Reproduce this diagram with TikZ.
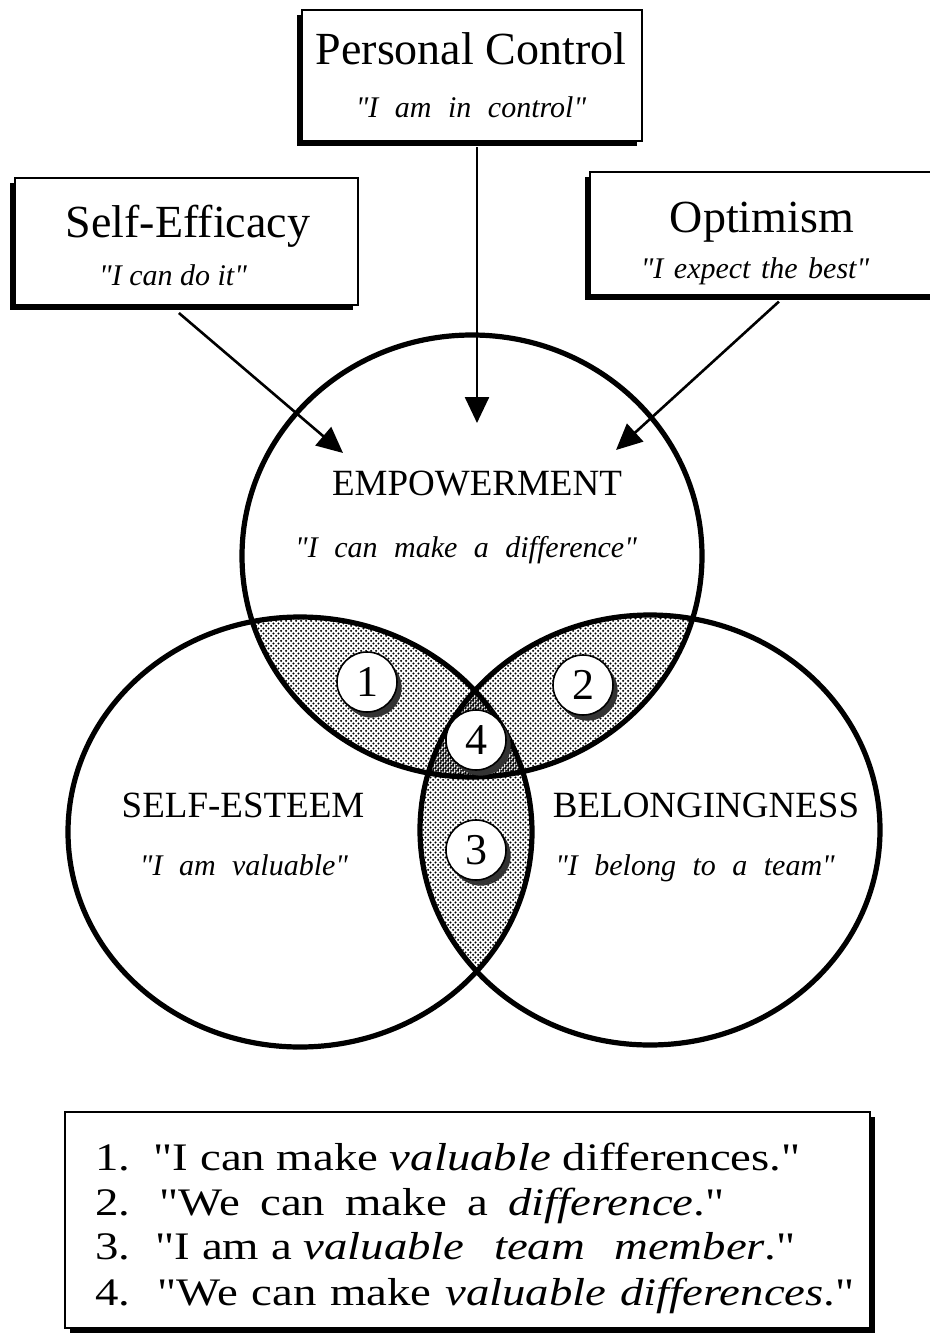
\documentclass[tikz,border=0pt]{standalone}
\usepackage{fontspec}
\setmainfont{Liberation Serif}[Ligatures=TeXOff]
\newfontfamily\legendfont{Liberation Serif}[FakeStretch=1.2]
\usetikzlibrary{patterns.meta,shadows,arrows.meta}

% halftone screen used for the overlap areas
\tikzdeclarepattern{
  name=halftone,
  type=uncolored,
  bottom left={(0pt,0pt)},
  top right={(2.4pt,2.4pt)},
  tile size={(2.4pt,2.4pt)},
  code={
    \pgfpathcircle{\pgfqpoint{0.6pt}{0.6pt}}{0.58pt}
    \pgfpathcircle{\pgfqpoint{1.8pt}{1.8pt}}{0.58pt}
    \pgfusepath{fill}
  }
}

% italic slogan with widened word spacing
\newcommand{\motto}[2][0.55em]{{\fontsize{15}{25}\selectfont\itshape\spaceskip=#1 #2}}

\tikzset{
  cuebox/.style={draw=black, line width=1pt, fill=white, inner sep=0pt,
    drop shadow={shadow xshift=-2.6pt, shadow yshift=-2.6pt, fill=black, opacity=1}},
  boxtitle/.style={anchor=base, inner sep=0pt, font=\fontsize{23}{25}\selectfont},
  listbox/.style={draw=black, line width=1pt, fill=white, inner sep=0pt,
    drop shadow={shadow xshift=2.6pt, shadow yshift=-2.6pt, fill=black, opacity=1}},
  push/.style={line width=1.3pt, -{Triangle[length=13pt,width=12pt]}},
  venn/.style={line width=2.6pt},
  badge/.style={circle, draw=black, line width=0.8pt, fill=white, minimum size=30pt,
    inner sep=0pt, font=\fontsize{22}{22}\selectfont,
    drop shadow={shadow xshift=2.3pt, shadow yshift=-2.8pt, fill=black!80, opacity=1}},
  heading/.style={anchor=base, inner sep=0pt, font=\fontsize{18.5}{20}\selectfont},
  saying/.style={anchor=base, inner sep=0pt},
  listline/.style={anchor=base west, inner sep=0pt, font=\legendfont\fontsize{19.5}{22}\selectfont},
}

\begin{document}
\begin{tikzpicture}[x=0.5pt, y=-0.5pt]
\useasboundingbox (0,0) rectangle (930,1338);
\clip (0,0) rectangle (930,1338);

% overlaps of the three circles
\begin{scope}
  \clip (472,556) ellipse [x radius=230, y radius=221];
  \fill[pattern=halftone] (300,832) ellipse [x radius=232, y radius=215];
  \fill[pattern=halftone] (650,830) ellipse [x radius=230, y radius=215];
\end{scope}
\begin{scope}
  \clip (300,832) ellipse [x radius=232, y radius=215];
  \fill[pattern=halftone] (650,830) ellipse [x radius=230, y radius=215];
\end{scope}

% the three circles
\draw[venn] (472,556) ellipse [x radius=230, y radius=221];
\draw[venn] (300,832) ellipse [x radius=232, y radius=215];
\draw[venn] (650,830) ellipse [x radius=230, y radius=215];

% circle labels
\node[heading] (emp) at (477,495) {EMPOWERMENT};
\node[saying] (empq) at (466,557) {\motto{"I can make a difference"}};
\node[heading] (est) at (243,817) {SELF-ESTEEM};
\node[saying] (estq) at (244,875) {\motto{"I am valuable"}};
\node[heading] (bel) at (706,817) {BELONGINGNESS};
\node[saying] (belq) at (695,875) {\motto{"I belong to a team"}};

% numbered overlap markers
\node[badge] (n1) at (367,682) {1};
\node[badge] (n2) at (583,685) {2};
\node[badge] (n4) at (476,740) {4};
\node[badge] (n3) at (476,850) {3};

% source boxes
\node[cuebox, minimum width=170pt, minimum height=65.5pt] (pc) at (472,75.5) {};
\node[boxtitle] (pcT) at (471,65) {Personal Control};
\node[saying] (pcS) at (471,118) {\motto{"I am in control"}};

\node[cuebox, minimum width=171.5pt, minimum height=63.5pt] (se) at (186.5,241.5) {};
\node[boxtitle] (seT) at (188,237) {Self-Efficacy};
\node[saying] (seS) at (173,285) {\motto[0.25em]{"I can do it"}};

\node[cuebox, minimum width=172.5pt, minimum height=61.5pt] (op) at (762.5,233.5) {};
\node[boxtitle] (opT) at (762,232) {Optimism};
\node[saying] (opS) at (755,278) {\motto[0.35em]{"I expect the best"}};

% arrows into the empowerment circle
\coordinate (pcTip) at (477,423);
\coordinate (seTip) at (343,453);
\coordinate (opTip) at (616,450);
\draw[push] ([xshift=2.5pt, yshift=-2.6pt]pc.south) -- (pcTip);
\draw[push] ([xshift=-3.8pt, yshift=-3.5pt]se.south) -- (seTip);
\draw[push] ([xshift=8.2pt, yshift=-2.8pt]op.south) -- (opTip);

% legend
\node[listbox, minimum width=402.5pt, minimum height=108pt] (legend) at (467.5,1220) {};
\node[listline] (l1) at (95,1170) {1.\hspace{0.6em}"I can make \textit{valuable} differences."};
\node[listline] (l2) at (95,1215) {2.\hspace{0.75em}{\spaceskip=0.52em\relax "We can make a \textit{difference}."}};
\node[listline] (l3) at (95,1259) {3.\hspace{0.65em}"I am a \textit{valuable\hspace{0.45em} team\hspace{0.45em} member}."};
\node[listline] (l4) at (95,1305) {4.\hspace{0.7em}"We\hspace{0.05em} can\hspace{0.05em} make\hspace{0.05em} \textit{valuable\hspace{0.05em} differences}."};
\end{tikzpicture}
\end{document}
